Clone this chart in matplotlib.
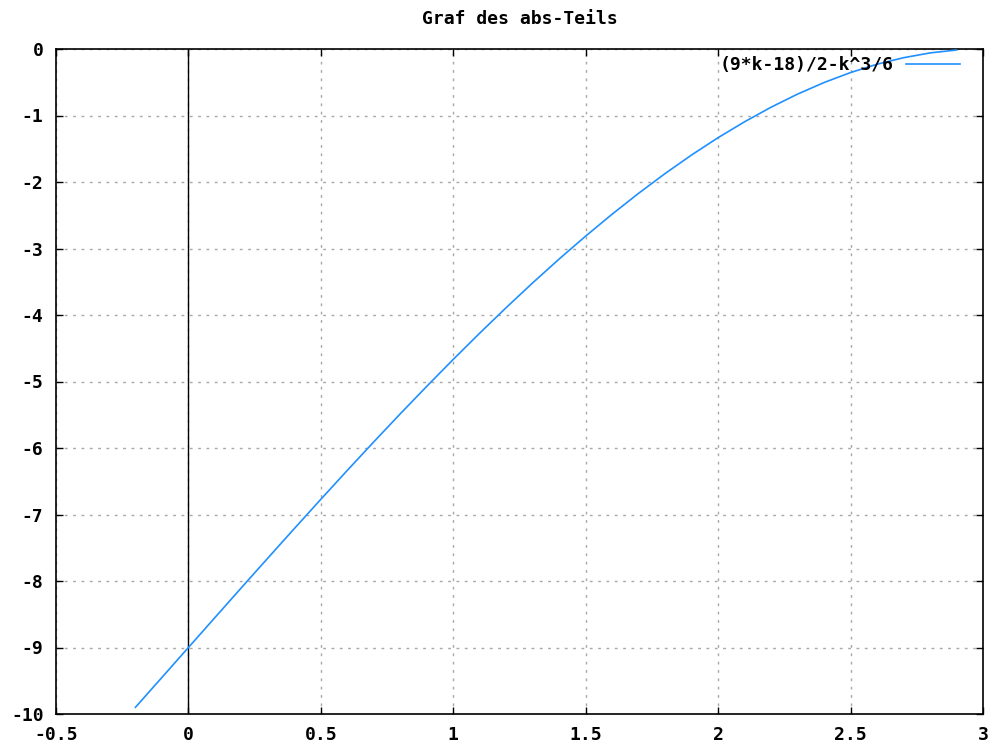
import matplotlib as mpl
mpl.use('Agg')
mpl.rcParams['font.family'] = 'DejaVu Sans Mono'
mpl.rcParams['font.weight'] = 'bold'
mpl.rcParams['font.size'] = 13
mpl.rcParams['axes.unicode_minus'] = False
import matplotlib.pyplot as plt
from matplotlib.ticker import FuncFormatter

# values (9*k-18)/2-k^3/6
k = [-0.2, -0.1, 0.0, 0.1, 0.2, 0.3, 0.4, 0.5, 0.6, 0.7, 0.8, 0.9, 1.0,
     1.1, 1.2, 1.3, 1.4, 1.5, 1.6, 1.7, 1.8, 1.9, 2.0, 2.1, 2.2, 2.3,
     2.4, 2.5, 2.6, 2.7, 2.8, 2.9]
y = [-9.899, -9.450, -9.0, -8.550, -8.101, -7.655, -7.211, -6.771,
     -6.336, -5.907, -5.485, -5.072, -4.667, -4.272, -3.888, -3.516,
     -3.157, -2.813, -2.483, -2.169, -1.872, -1.593, -1.333, -1.094,
     -0.875, -0.678, -0.504, -0.354, -0.229, -0.131, -0.059, -0.015]
xticks = [-0.5, 0, 0.5, 1, 1.5, 2, 2.5, 3]
yticks = [0, -1, -2, -3, -4, -5, -6, -7, -8, -9, -10]

fig = plt.figure(figsize=(9.94, 7.45), dpi=100)
ax = fig.add_axes([56/994, 1-714/745, (983-56)/994, (714-49)/745])

ax.plot(k, y, color='#2090ff', lw=1.2, label='(9*k-18)/2-k^3/6', zorder=3)
ax.axvline(0, color='black', lw=1, zorder=2)

ax.set_xlim(-0.5, 3)
ax.set_ylim(-10, 0)
ax.set_xticks(xticks)
ax.set_yticks(yticks)
ax.xaxis.set_major_formatter(FuncFormatter(lambda v, p: '%g' % v))
ax.yaxis.set_major_formatter(FuncFormatter(lambda v, p: '%g' % v))
ax.tick_params(direction='in', length=5, width=1, top=True, right=True,
               pad=9, labelsize=13)
ax.grid(True, color='#a8a8a8', lw=1, linestyle=(0, (2, 4)), zorder=1)
for s in ax.spines.values():
    s.set_linewidth(1.2)

ax.set_title('Graf des abs-Teils', fontsize=13, fontweight='bold', pad=18)

leg = ax.legend(loc='upper right', bbox_to_anchor=(0.987, 1.006),
                frameon=False, markerfirst=False, handlelength=3.0,
                handletextpad=0.7, borderaxespad=0.2, fontsize=13)

plt.savefig('out.png', dpi=100)
